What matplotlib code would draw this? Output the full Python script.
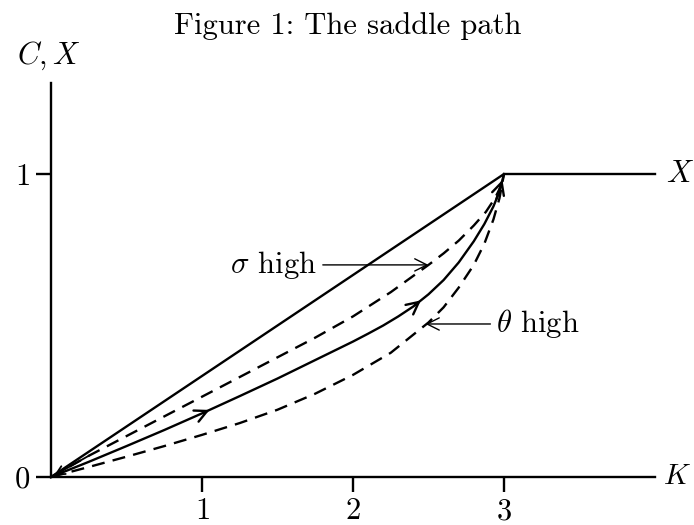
import matplotlib
matplotlib.use("Agg")
import matplotlib.pyplot as plt
import numpy as np

plt.rcParams['font.family'] = ['cmr10', 'DejaVu Serif']
plt.rcParams['mathtext.fontset'] = 'cm'
plt.rcParams['axes.unicode_minus'] = False
plt.rcParams['axes.formatter.use_mathtext'] = True

# capacity line X: rises to 1 at K=3, flat after
cap_k = [0, 3, 4]
cap_x = [0, 1, 1]

# saddle path (solid, with arrows)
path_k = [0, 0.25, 0.5, 0.75, 1.0, 1.25, 1.5, 1.75, 2.0, 2.1, 2.2, 2.3, 2.4, 2.5, 2.6, 2.7, 2.8, 2.87, 2.93, 2.97, 3.0]
path_c = [0, 0.05, 0.102, 0.155, 0.21, 0.267, 0.325, 0.386, 0.447, 0.473, 0.50, 0.53, 0.563, 0.603, 0.65, 0.708, 0.778, 0.835, 0.893, 0.942, 1.0]
path_arrows = [1.05, 2.45, 2.99]

# sigma high (upper dashed)
sig_k = [0, 0.25, 0.5, 0.75, 1.0, 1.25, 1.5, 1.75, 2.0, 2.25, 2.5, 2.6, 2.7, 2.8, 2.88, 2.94, 2.98, 3.0]
sig_c = [0, 0.07, 0.135, 0.2, 0.265, 0.33, 0.395, 0.46, 0.53, 0.61, 0.70, 0.738, 0.78, 0.83, 0.875, 0.92, 0.96, 1.0]

# theta high (lower dashed)
th_k = [0, 0.25, 0.5, 0.75, 1.0, 1.25, 1.5, 1.75, 2.0, 2.25, 2.4, 2.5, 2.6, 2.7, 2.8, 2.87, 2.93, 2.97, 3.0]
th_c = [0, 0.033, 0.067, 0.102, 0.139, 0.178, 0.222, 0.275, 0.337, 0.41, 0.47, 0.51, 0.56, 0.625, 0.70, 0.77, 0.85, 0.92, 1.0]

xticks = [1, 2, 3]
yticks = [0, 1]

fs = 22
lw = 1.7

fig = plt.figure(figsize=(6.94, 5.25), dpi=100)
ax = fig.add_axes([0, 0, 1, 1])
ax.set_xlim(-51 / 151, 643 / 151)
ax.set_ylim(-48 / 303, 477 / 303)
ax.patch.set_visible(False)

for s in ['top', 'right']:
    ax.spines[s].set_visible(False)
ax.spines['left'].set_position(('data', 0))
ax.spines['bottom'].set_position(('data', 0))
ax.spines['left'].set_bounds(0, 1.30)
ax.spines['bottom'].set_bounds(0, 4)
ax.spines['left'].set_linewidth(lw)
ax.spines['bottom'].set_linewidth(lw)

ax.set_xticks(xticks)
ax.set_yticks(yticks)
ax.tick_params(direction='out', length=11, width=lw, labelsize=fs, pad=4)

ax.plot(cap_k, cap_x, color='black', lw=lw, solid_joinstyle='miter')
ax.plot(path_k, path_c, color='black', lw=lw)
ax.plot(sig_k, sig_c, color='black', lw=lw, linestyle=(0, (5.5, 3.5)))
ax.plot(th_k, th_c, color='black', lw=lw, linestyle=(0, (5.5, 3.5)))

# direction arrows along the saddle path
arr = dict(arrowstyle='->', color='black', lw=lw, mutation_scale=22, shrinkA=0, shrinkB=0)
for k in path_arrows:
    k0 = k - 0.04
    ax.annotate('', xy=(k, np.interp(k, path_k, path_c)),
                xytext=(k0, np.interp(k0, path_k, path_c)), arrowprops=arr)
ax.annotate('', xy=(sig_k[0] + 0.02, sig_c[0] + 0.005), xytext=(sig_k[1], sig_c[1]),
            arrowprops=dict(arrowstyle='->', color='black', lw=1.3, mutation_scale=16,
                            shrinkA=0, shrinkB=0))

# labels with pointers
thin = dict(arrowstyle='->', color='black', lw=1.0, mutation_scale=22, shrinkA=0, shrinkB=0)
ax.annotate('', xy=(2.50, 0.70), xytext=(1.80, 0.70), arrowprops=thin)
ax.text(1.76, 0.70, r'$\sigma$ high', fontsize=fs, ha='right', va='center')
ax.annotate('', xy=(2.48, 0.505), xytext=(2.91, 0.505), arrowprops=thin)
ax.text(2.95, 0.505, r'$\theta$ high', fontsize=fs, ha='left', va='center')

ax.text(-0.013, 1.39, r'$C,X$', fontsize=fs, ha='center', va='center')
ax.text(4.05, 0, r'$K$', fontsize=21, ha='left', va='center')
ax.text(4.07, 1.0, r'$X$', fontsize=fs, ha='left', va='center')

fig.text(0.501, 1 - 26 / 525, 'Figure 1: The saddle path', fontsize=fs, ha='center', va='center')

fig.savefig('out.png', dpi=100)
